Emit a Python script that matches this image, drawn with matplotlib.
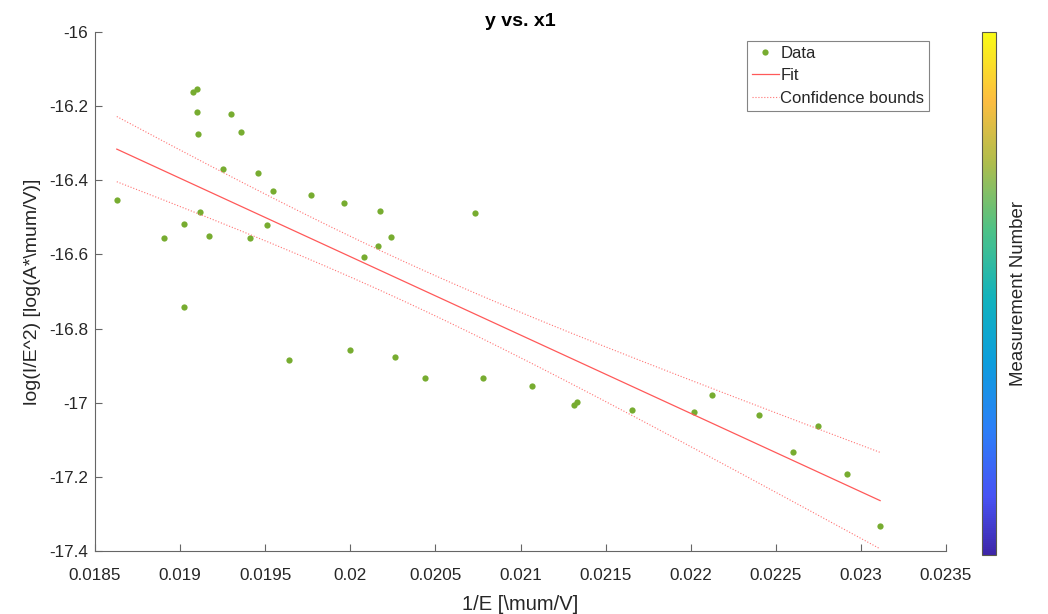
import numpy as np
import matplotlib
matplotlib.use("Agg")
import matplotlib.pyplot as plt
from matplotlib.colors import LinearSegmentedColormap
from matplotlib.cm import ScalarMappable
from matplotlib.colors import Normalize

plt.rcParams['font.family'] = ['Liberation Sans', 'DejaVu Sans']

x1 = [0.018628, 0.019076, 0.019102, 0.019098, 0.019106, 0.019298, 0.019355,
      0.019253, 0.019455, 0.019547, 0.019767, 0.019965, 0.020175, 0.020239,
      0.020165, 0.020079, 0.019119, 0.019020, 0.018906, 0.019167, 0.019410,
      0.019513, 0.019020, 0.019641, 0.019998, 0.020263, 0.020441, 0.020733,
      0.020778, 0.021068, 0.021312, 0.021331, 0.021655, 0.022018, 0.022124,
      0.022400, 0.022601, 0.022749, 0.022919, 0.023113]
y = [-16.452, -16.162, -16.155, -16.215, -16.275, -16.222, -16.271,
     -16.369, -16.381, -16.430, -16.441, -16.461, -16.483, -16.554,
     -16.578, -16.606, -16.485, -16.518, -16.555, -16.550, -16.555,
     -16.521, -16.742, -16.885, -16.859, -16.878, -16.932, -16.488,
     -16.933, -16.956, -17.005, -16.997, -17.019, -17.026, -16.978,
     -17.034, -17.134, -17.064, -17.192, -17.332]

x_ticks = [0.0185, 0.019, 0.0195, 0.02, 0.0205, 0.021, 0.0215, 0.022, 0.0225, 0.023, 0.0235]
x_tick_labels = ['0.0185', '0.019', '0.0195', '0.02', '0.0205', '0.021', '0.0215',
                 '0.022', '0.0225', '0.023', '0.0235']
y_ticks = [-16, -16.2, -16.4, -16.6, -16.8, -17, -17.2, -17.4]
y_tick_labels = ['-16', '-16.2', '-16.4', '-16.6', '-16.8', '-17', '-17.2', '-17.4']

x = np.array(x1)
yv = np.array(y)

# linear fit with 95% confidence bounds of the fitted line
p = np.polyfit(x, yv, 1)
n = len(x)
resid = yv - np.polyval(p, x)
s = np.sqrt(np.sum(resid**2) / (n - 2))
t_val = 2.024
xf = np.linspace(x.min(), x.max(), 200)
yf = np.polyval(p, xf)
half = t_val * s * np.sqrt(1 / n + (xf - x.mean())**2 / np.sum((x - x.mean())**2))

# parula-like colormap
parula = LinearSegmentedColormap.from_list('parula', [
    (0.00, (0.2422, 0.1504, 0.6603)),
    (0.11, (0.2810, 0.3228, 0.9579)),
    (0.24, (0.17, 0.50, 0.97)),
    (0.37, (0.05, 0.62, 0.86)),
    (0.49, (0.07, 0.70, 0.74)),
    (0.62, (0.30, 0.76, 0.53)),
    (0.75, (0.68, 0.74, 0.30)),
    (0.87, (0.99, 0.74, 0.25)),
    (1.00, (0.9769, 0.9839, 0.0805)),
])

fig = plt.figure(figsize=(10.48, 6.14), dpi=100)
ax = fig.add_axes([95 / 1048, (614 - 551) / 614, (946 - 95) / 1048, (551 - 32) / 614])

green = (0.466, 0.674, 0.188)
ax.plot(x, yv, 'o', color=green, markersize=4.5, markeredgewidth=0, label='Data')
ax.plot(xf, yf, '-', color=(1.0, 0.35, 0.35), linewidth=0.9, label='Fit')
ax.plot(xf, yf + half, ':', color=(1.0, 0.45, 0.45), linewidth=0.8, label='Confidence bounds')
ax.plot(xf, yf - half, ':', color=(1.0, 0.45, 0.45), linewidth=0.8)

ax.set_xlim(0.0185, 0.0235)
ax.set_ylim(-17.4, -16)
ax.set_xticks(x_ticks)
ax.set_xticklabels(x_tick_labels)
ax.set_yticks(y_ticks)
ax.set_yticklabels(y_tick_labels)

axis_col = (0.15, 0.15, 0.15)
for side in ['top', 'right']:
    ax.spines[side].set_visible(False)
for side in ['left', 'bottom']:
    ax.spines[side].set_color((0.4, 0.4, 0.4))
    ax.spines[side].set_linewidth(0.8)
ax.tick_params(direction='in', length=5, width=0.8, color=(0.4, 0.4, 0.4),
               labelsize=12.3, labelcolor=axis_col)
ax.tick_params(axis='x', pad=12)
ax.tick_params(axis='y', pad=5)

ax.set_title('y vs. x1', fontsize=14, fontweight='bold', color=(0, 0, 0), pad=4)
ax.set_xlabel('1/E [\\mum/V]', fontsize=14.5, color=axis_col, labelpad=9)
ax.set_ylabel('log(I/E^2) [log(A*\\mum/V)]', fontsize=14, color=axis_col)
ax.yaxis.set_label_coords(-54 / 851, 0.5)

leg = ax.legend(loc='upper right', bbox_to_anchor=(0.9805, 0.983), fontsize=12,
                frameon=True, fancybox=False, borderpad=0.3, labelspacing=0.45,
                handlelength=1.6, handletextpad=0.1, borderaxespad=0)
leg.get_frame().set_edgecolor((0.4, 0.4, 0.4))
leg.get_frame().set_linewidth(0.8)
for txt in leg.get_texts():
    txt.set_color(axis_col)

cax = fig.add_axes([982 / 1048, (614 - 555) / 614, 14 / 1048, (555 - 32) / 614])
sm = ScalarMappable(norm=Normalize(0, 1), cmap=parula)
cb = fig.colorbar(sm, cax=cax)
cb.set_ticks([])
cb.outline.set_edgecolor((0.35, 0.35, 0.3))
cb.outline.set_linewidth(0.8)
cb.set_label('Measurement Number', fontsize=13.4, color=axis_col, labelpad=10)

fig.savefig('out.png', dpi=100)
